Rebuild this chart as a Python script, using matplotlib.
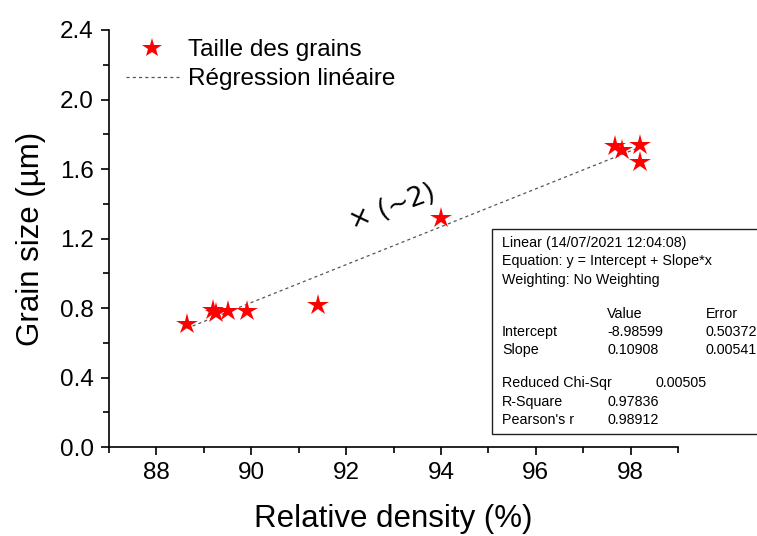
import numpy as np
import matplotlib.pyplot as plt
from matplotlib.patches import Rectangle
from matplotlib.ticker import MultipleLocator

plt.rcParams['font.family'] = ['Liberation Sans', 'DejaVu Sans']

# ----- data -----
density = [88.64, 89.2, 89.25, 89.5, 89.9, 91.4, 94.0, 97.67, 97.82, 98.2, 98.2]
grain_size = [0.71, 0.79, 0.77, 0.78, 0.78, 0.82, 1.32, 1.73, 1.71, 1.74, 1.64]
intercept = -8.98599
slope = 0.10908

stats_header = ["Linear (14/07/2021 12:04:08)",
                "Equation: y = Intercept + Slope*x",
                "Weighting: No Weighting"]
param_names = ["Intercept", "Slope"]
param_values = ["-8.98599", "0.10908"]
param_errors = ["0.50372", "0.00541"]

W, H = 757, 536
fig = plt.figure(figsize=(W / 100, H / 100), dpi=100)
ax = fig.add_axes([109 / W, 1 - 447 / H, (678 - 109) / W, (447 - 30) / H])

ax.plot(density, grain_size, linestyle='none', marker='*', color='red',
        markersize=16, markeredgewidth=0, label='Taille des grains', zorder=3)

xfit = np.array([min(density), max(density)])
ax.plot(xfit, intercept + slope * xfit, linestyle=(0, (2.5, 2.5)), color='#555555',
        linewidth=0.9, label='Régression linéaire', zorder=2)

ax.set_xlim(87, 99)
ax.set_ylim(0, 2.4)
ax.xaxis.set_minor_locator(MultipleLocator(1))
ax.yaxis.set_minor_locator(MultipleLocator(0.2))
ax.set_xticks([88, 90, 92, 94, 96, 98])
ax.set_xticklabels(['88', '90', '92', '94', '96', '98'])
ax.set_yticks(np.arange(0, 2.41, 0.4))
ax.set_yticklabels(['0.0', '0.4', '0.8', '1.2', '1.6', '2.0', '2.4'])
ax.tick_params(which='major', direction='out', length=6, width=1.2, labelsize=17.5, pad=5)
ax.tick_params(which='minor', direction='out', length=4, width=1.2)
for s in ['top', 'right']:
    ax.spines[s].set_visible(False)
for s in ['left', 'bottom']:
    ax.spines[s].set_linewidth(1.2)

ax.set_xlabel('Relative density (%)', fontsize=22.5, labelpad=14)
ax.set_ylabel('Grain size (µm)', fontsize=22.5, labelpad=10)

ax.legend(loc='upper left', bbox_to_anchor=(-0.005, 1.025), frameon=False, fontsize=17.5,
          handlelength=2.2, handletextpad=0.35, borderaxespad=0.4, labelspacing=0.3,
          markerscale=0.9)

# handwritten-ish note
fig.text(392 / W, 1 - 207 / H, '× (~2)', fontsize=19, rotation=20,
         ha='center', va='center', family='DejaVu Sans')

# ----- fit report box -----
box = Rectangle((492 / W, 1 - 434 / H), 300 / W, (434 - 229) / H, transform=fig.transFigure,
                facecolor='white', edgecolor='#222222', linewidth=1.0, zorder=5, clip_on=False)
fig.patches.append(box)

fs = 10.3
def put(x, y, s):
    fig.text(x / W, 1 - y / H, s, fontsize=fs, va='center', ha='left', zorder=6)

for i, line in enumerate(stats_header):
    put(502, 243 + i * 18.5, line)
put(607, 314, "Value")
put(706, 314, "Error")
for i, name in enumerate(param_names):
    put(502, 332 + i * 18, name)
    put(607, 332 + i * 18, param_values[i])
    put(706, 332 + i * 18, param_errors[i])
put(502, 383, "Reduced Chi-Sqr")
put(655, 383, "0.00505")
put(502, 402, "R-Square")
put(607, 402, "0.97836")
put(502, 420, "Pearson's r")
put(607, 420, "0.98912")

fig.savefig('out.png', dpi=100)
